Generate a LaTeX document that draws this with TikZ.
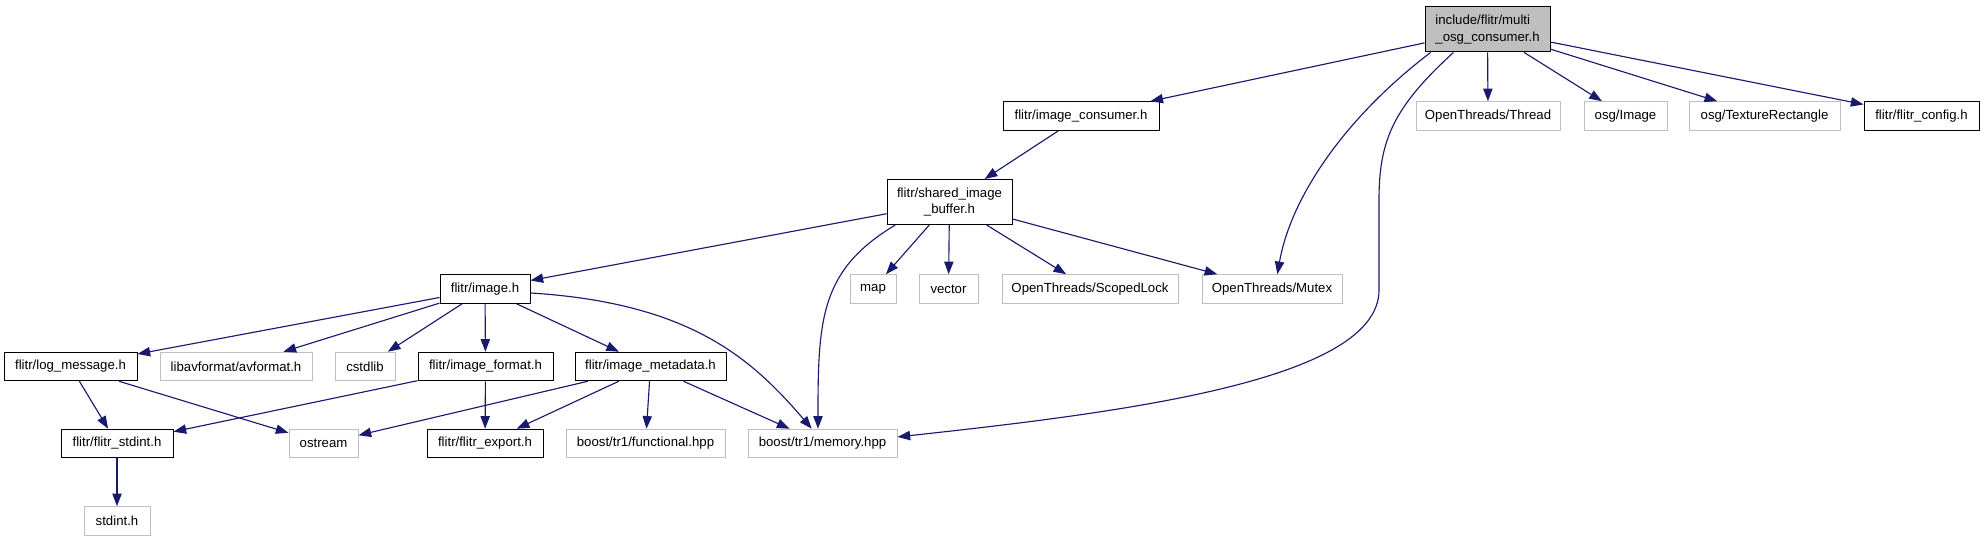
\documentclass[tikz,border=0pt]{standalone}
\usepackage{fontspec}
\setmainfont{Liberation Sans}
\usetikzlibrary{arrows.meta}
\definecolor{gris}{HTML}{BFBFBF}
\definecolor{azul}{HTML}{191970}

\begin{document}
\begin{tikzpicture}[x=0.75pt, y=-0.75pt,
    caja/.style={draw=black, line width=0.75pt, minimum height=21.4pt, inner xsep=0pt, inner ysep=0pt, font=\fontsize{9.9}{12.5}\selectfont},
    ext/.style={caja, draw=gris},
    ancho/.style={minimum width=#1*0.75pt},
    flecha/.style={draw=azul, line width=0.85pt, -{Triangle[length=9.5pt, width=7pt]}}]
    % Marco de la figura
    \useasboundingbox (0,0) rectangle (1984,541);

    % Archivo principal
    \node[caja, fill=gris, align=left, ancho=125, minimum height=33.75pt] (multi) at (1487.5,29.5) {include/flitr/multi\\\_osg\_consumer.h};

    % Primera fila
    \node[caja, ancho=156] (consumer) at (1081,116) {flitr/image\_consumer.h};
    \node[ext, ancho=144] (thread) at (1488,116) {OpenThreads/Thread};
    \node[ext, ancho=83] (osgimage) at (1625.5,116) {osg/Image};
    \node[ext, ancho=151] (texrect) at (1764.5,116) {osg/TextureRectangle};
    \node[caja, ancho=115] (config) at (1921.5,116) {flitr/flitr\_config.h};

    % Buffer compartido
    \node[caja, align=center, ancho=125, minimum height=33.75pt] (buffer) at (949.5,202) {flitr/shared\_image\\\_buffer.h};

    % Tercera fila
    \node[caja, ancho=90] (image) at (485,289) {flitr/image.h};
    \node[ext, ancho=46] (map) at (873,289) {map};
    \node[ext, ancho=59] (vector) at (948.5,289) {vector};
    \node[ext, ancho=176] (scoped) at (1090,289) {OpenThreads/ScopedLock};
    \node[ext, ancho=140] (mutex) at (1272,289) {OpenThreads/Mutex};

    % Cuarta fila
    \node[caja, ancho=133] (logmsg) at (70.5,366.5) {flitr/log\_message.h};
    \node[ext, ancho=152] (avformat) at (236,366.5) {libavformat/avformat.h};
    \node[ext, ancho=60] (cstdlib) at (365,366.5) {cstdlib};
    \node[caja, ancho=135] (imgformat) at (485.5,366.5) {flitr/image\_format.h};
    \node[caja, ancho=151] (metadata) at (650.5,366.5) {flitr/image\_metadata.h};

    % Quinta fila
    \node[caja, ancho=112] (fstdint) at (117,443.5) {flitr/flitr\_stdint.h};
    \node[ext, ancho=69] (ostream) at (323.5,443.5) {ostream};
    \node[caja, ancho=116] (export) at (485,443.5) {flitr/flitr\_export.h};
    \node[ext, ancho=159] (functional) at (645.5,443.5) {boost/tr1/functional.hpp};
    \node[ext, ancho=149] (memory) at (822.5,443.5) {boost/tr1/memory.hpp};

    % Ultima fila
    \node[ext, ancho=66] (stdinth) at (117,521) {stdint.h};

    % Dependencias del archivo principal
    \draw[flecha] (multi) -- (consumer);
    \draw[flecha] (multi) -- (thread);
    \draw[flecha] (multi) -- (osgimage);
    \draw[flecha] (multi) -- (texrect);
    \draw[flecha] (multi) -- (config);
    \draw[flecha] (multi.-158) .. controls +(-88,67) and +(13,-75) .. (mutex.70);
    \draw[flecha] (multi.-146) .. controls +(-60,55) and +(0,-60) .. (1379,200) -- (1379,290) .. controls +(0,90) and +(230,-25) .. (memory.5);

    % Dependencias del consumidor y del buffer
    \draw[flecha] (consumer) -- (buffer);
    \draw[flecha] (buffer) -- (image);
    \draw[flecha] (buffer) -- (map);
    \draw[flecha] (buffer) -- (vector);
    \draw[flecha] (buffer) -- (scoped);
    \draw[flecha] (buffer) -- (mutex);
    \draw[flecha] (buffer.-157) .. controls +(-75,45) and +(0,-110) .. (memory.107);

    % Dependencias de image.h
    \draw[flecha] (image) -- (logmsg);
    \draw[flecha] (image) -- (avformat);
    \draw[flecha] (image) -- (cstdlib);
    \draw[flecha] (image) -- (imgformat);
    \draw[flecha] (image) -- (metadata);
    \draw[flecha] (image.-5) .. controls +(160,10) and +(-60,-70) .. (memory.126);

    % Filas inferiores
    \draw[flecha] (logmsg) -- (fstdint);
    \draw[flecha] (logmsg) -- (ostream);
    \draw[flecha] (imgformat) -- (fstdint);
    \draw[flecha] (imgformat) -- (export);
    \draw[flecha] (metadata) -- (ostream);
    \draw[flecha] (metadata) -- (export);
    \draw[flecha] (metadata) -- (functional);
    \draw[flecha] (metadata) -- (memory);
    \draw[flecha] (fstdint) -- (stdinth);

\end{tikzpicture}
\end{document}
